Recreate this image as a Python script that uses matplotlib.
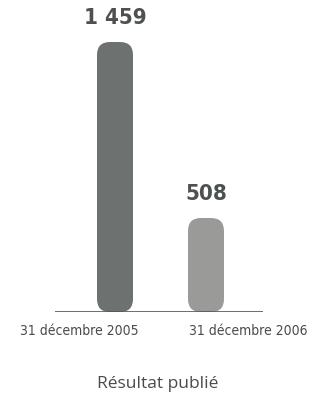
import numpy as np
import matplotlib.pyplot as plt
from matplotlib.patches import FancyBboxPatch

# values
dates = ['31 décembre 2005', '31 décembre 2006']
results = [1459, 508]
value_labels = ['1 459', '508']
bar_colors = ['#6d716f', '#9a9b99']
title = 'Résultat publié'

W, H = 314, 399
fig = plt.figure(figsize=(W / 100, H / 100), dpi=100)
ax = fig.add_axes([55 / W, 87 / H, 208 / W, 312 / H])

x = np.arange(len(results))
px_per_x = 91.0
ax.set_xlim(-60 / px_per_x, (208 - 60) / px_per_x)
ymax = 312 / 270 * results[0]
ax.set_ylim(0, ymax)

bars = ax.bar(x, results, width=36 / px_per_x, color=bar_colors)

# swap the plain rectangles for rounded ones
aspect = (ymax / 312) * px_per_x
for b, c in zip(bars, bar_colors):
    b.set_visible(False)
    r = FancyBboxPatch((b.get_x(), b.get_y()), b.get_width(), b.get_height(),
                       boxstyle='round,pad=0,rounding_size=%f' % (13 / px_per_x),
                       mutation_aspect=aspect, fc=c, ec='none')
    ax.add_patch(r)

for xi, v, lab in zip(x, results, value_labels):
    ax.annotate(lab, (xi, v), xytext=(0, 10), textcoords='offset points',
                ha='center', va='bottom', fontsize=16, fontweight='heavy',
                fontstretch='condensed', color='#4d5150', family='DejaVu Sans')

ax.axhline(0, color='#555555', lw=1.2)
for s in ax.spines.values():
    s.set_visible(False)
ax.set_xticks([])
ax.set_yticks([])

# date labels sit a bit off the bar centres in the original
fig.text(79 / W, 1 - 331 / H, dates[0], ha='center', va='center', fontsize=10,
         fontstretch='condensed', color='#4a4a4a', family='DejaVu Sans')
fig.text(248 / W, 1 - 331 / H, dates[1], ha='center', va='center', fontsize=10,
         fontstretch='condensed', color='#4a4a4a', family='DejaVu Sans')
fig.text(158 / W, 1 - 384 / H, title, ha='center', va='center', fontsize=12.5,
         color='#4a4a4a', family=['Open Sans', 'DejaVu Sans'])

fig.savefig('out.png', dpi=100)
